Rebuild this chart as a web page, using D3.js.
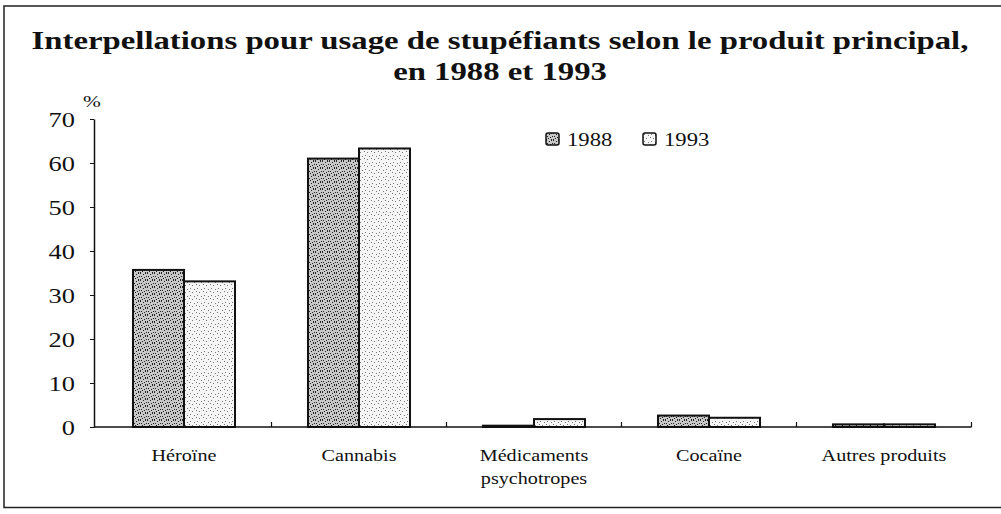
<!DOCTYPE html>
<html>
<head>
<meta charset="utf-8">
<script src="https://cdn.jsdelivr.net/npm/d3@7"></script>
<style>
  html, body { margin: 0; padding: 0; background: #fff; }
  svg { display: block; }
  text { font-family: "Liberation Serif", "Times New Roman", serif; }
</style>
</head>
<body>
<div id="chart"></div>
<script>
// data
const categories = ["Héroïne", "Cannabis", "Médicaments\npsychotropes", "Cocaïne", "Autres produits"];
const years = ["1988", "1993"];
const values1988 = [35.7, 61.0, 0.3, 2.6, 0.6];
const values1993 = [33.1, 63.3, 1.8, 2.1, 0.6];
const yTicks = [0, 10, 20, 30, 40, 50, 60, 70];

const cfg = {
  width: 1001,
  height: 514,
  margin: { left: 94, right: 30, top: 119, bottom: 87 }
};
// the scanned original is a bit wider than it is tall
const stretch = 1.26;

const table = categories.map((c, i) => ({ cat: c, "1988": values1988[i], "1993": values1993[i] }));

const svg = d3.select("#chart")
  .append("svg")
  .attr("width", cfg.width)
  .attr("height", cfg.height)
  .attr("viewBox", [0, 0, cfg.width, cfg.height]);

// stipple patterns for the two series
const defs = svg.append("defs");
function stipple(id, base, dots, color) {
  const p = defs.append("pattern")
    .attr("id", id)
    .attr("patternUnits", "userSpaceOnUse")
    .attr("width", 7).attr("height", 7);
  p.append("rect").attr("width", 7).attr("height", 7).attr("fill", base);
  dots.forEach(([x, y]) => {
    p.append("rect").attr("x", x).attr("y", y).attr("width", 1).attr("height", 1).attr("fill", color);
  });
}
stipple("p1988", "#c8c8c8",
  [[0, 0], [3, 1], [5, 0], [1, 3], [4, 4], [6, 3], [2, 5], [0, 6], [5, 6]], "#222");
stipple("p1993", "#f5f5f5",
  [[1, 1], [5, 2], [3, 5], [0, 4]], "#777");
const fills = { "1988": "url(#p1988)", "1993": "url(#p1993)" };

// frame
svg.append("path")
  .attr("d", `M${cfg.width + 2},6 H4 V507.5 H${cfg.width + 2}`)
  .attr("fill", "none")
  .attr("stroke", "#222")
  .attr("stroke-width", 1.5);

// title
const titleLines = ["Interpellations pour usage de stupéfiants selon le produit principal,", "en 1988 et 1993"];
svg.append("g")
  .attr("class", "title")
  .selectAll("text")
  .data(titleLines)
  .join("text")
  .attr("transform", (d, i) => `translate(500,${49 + i * 31}) scale(${stretch},1)`)
  .attr("text-anchor", "middle")
  .attr("font-weight", "bold")
  .attr("font-size", 26)
  .attr("fill", "#111")
  .text(d => d);

// scales
const x0 = d3.scaleBand()
  .domain(categories)
  .range([96.5, 971.5])
  .paddingInner(0.417)
  .paddingOuter(0.2085);
const x1 = d3.scaleBand()
  .domain(years)
  .range([0, x0.bandwidth()]);
const y = d3.scaleLinear()
  .domain([0, 70])
  .range([cfg.height - cfg.margin.bottom, cfg.margin.top]);

// bars
svg.append("g")
  .attr("class", "bars")
  .selectAll("g")
  .data(table)
  .join("g")
  .attr("transform", d => `translate(${x0(d.cat)},0)`)
  .selectAll("rect")
  .data(d => years.map(k => ({ key: k, value: d[k] })))
  .join("rect")
  .attr("x", d => x1(d.key))
  .attr("y", d => y(d.value))
  .attr("width", x1.bandwidth())
  .attr("height", d => y(0) - y(d.value))
  .attr("fill", d => fills[d.key])
  .attr("stroke", "#111")
  .attr("stroke-width", 2);

// y axis
const yAxis = d3.axisLeft(y)
  .tickValues(yTicks)
  .tickSize(4)
  .tickPadding(0)
  .tickSizeOuter(0);
const gy = svg.append("g")
  .attr("class", "yAxis")
  .attr("transform", `translate(${cfg.margin.left},0)`)
  .call(yAxis);
gy.select(".domain").attr("stroke", "#111").attr("stroke-width", 1.5);
gy.selectAll(".tick line").attr("stroke", "#111");
gy.selectAll(".tick text")
  .attr("x", null)
  .attr("dy", "0.34em")
  .attr("transform", `translate(-19,0) scale(${stretch},1)`)
  .attr("font-family", "Liberation Serif, serif")
  .attr("font-size", 21)
  .attr("fill", "#111");

svg.append("text")
  .attr("transform", `translate(83,107) scale(${stretch},1)`)
  .attr("font-size", 17)
  .attr("fill", "#111")
  .text("%");

// x axis
const boundaries = categories.map(c => x0(c) + x0.bandwidth() + x0.step() * x0.paddingInner() / 2);
svg.append("line")
  .attr("x1", cfg.margin.left).attr("x2", boundaries[boundaries.length - 1])
  .attr("y1", y(0)).attr("y2", y(0))
  .attr("stroke", "#111").attr("stroke-width", 1.5);
svg.append("g")
  .attr("class", "xTicks")
  .selectAll("line")
  .data(boundaries)
  .join("line")
  .attr("x1", d => d).attr("x2", d => d)
  .attr("y1", y(0)).attr("y2", y(0) - 5)
  .attr("stroke", "#111").attr("stroke-width", 1.2);

svg.append("g")
  .attr("class", "xLabels")
  .selectAll("text")
  .data(categories)
  .join("text")
  .attr("transform", d => `translate(${x0(d) + x0.bandwidth() / 2},0) scale(${stretch},1)`)
  .attr("text-anchor", "middle")
  .attr("font-size", 16)
  .attr("fill", "#111")
  .each(function (d) {
    const lines = d.split("\n");
    d3.select(this).selectAll("tspan")
      .data(lines)
      .join("tspan")
      .attr("x", 0)
      .attr("y", (l, i) => 461 + i * 23)
      .text(l => l);
  });

// legend
const legend = svg.append("g")
  .attr("class", "legend")
  .selectAll("g")
  .data(years)
  .join("g")
  .attr("transform", (d, i) => `translate(${546 + i * 97},133)`);
legend.append("rect")
  .attr("width", 13).attr("height", 12)
  .attr("rx", 2)
  .attr("fill", d => fills[d])
  .attr("stroke", "#111")
  .attr("stroke-width", 1.5);
legend.append("text")
  .attr("transform", `translate(21,13) scale(${stretch},1)`)
  .attr("font-size", 18)
  .attr("fill", "#111")
  .text(d => d);
</script>
</body>
</html>
